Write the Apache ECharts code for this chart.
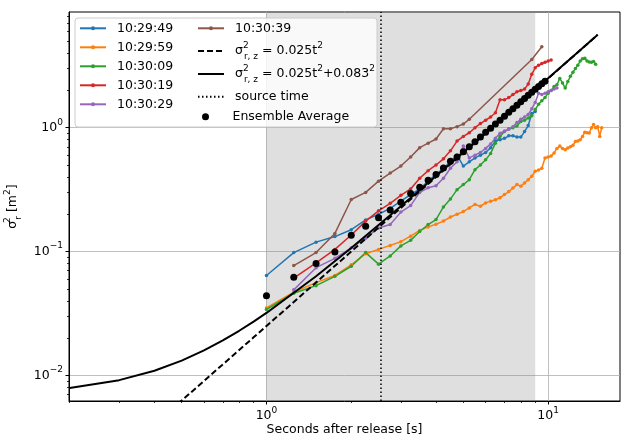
<!DOCTYPE html>
<html><head><meta charset="utf-8">
<script src="https://cdn.jsdelivr.net/npm/echarts@6/dist/echarts.min.js"></script>
<style>html,body{margin:0;padding:0;background:#fff}#c{width:622px;height:437px}</style>
</head><body><div id="c"></div>
<script>
const FONT = 'DejaVu Sans';

// ---- data ----
const tBlue = [1,1.25,1.5,1.75,2,2.25,2.5,2.75,3,3.25,3.5,3.75,4,4.25,4.5,4.75,5,5.25,5.5,5.75,6,6.25,6.5,6.75,7,7.25,7.5,7.75,8,8.25,8.5,8.75,9];
const vBlue = [0.064,0.098,0.119,0.132,0.150,0.180,0.200,0.223,0.255,0.288,0.320,0.370,0.420,0.470,0.530,0.600,0.490,0.530,0.570,0.600,0.630,0.690,0.780,0.800,0.820,0.860,0.860,0.840,0.840,0.930,1.040,1.300,1.350];

const tOrange = [1,1.25,1.5,1.75,2,2.25,2.5,2.75,3,3.25,3.5,3.75,4,4.25,4.5,4.75,5,5.25,5.5,5.75,6,6.25,6.5,6.75,7,7.25,7.5,7.75,8,8.25,8.5,8.75,9,9.25,9.5,9.75,10,10.25,10.5,10.75,11,11.25,11.5,11.75,12,12.25,12.5,12.75,13,13.25,13.5,13.75,14,14.25,14.5,14.75,15,15.25,15.5];
const vOrange = [0.035,0.047,0.056,0.064,0.078,0.096,0.104,0.112,0.120,0.133,0.148,0.158,0.166,0.176,0.190,0.200,0.210,0.225,0.240,0.232,0.247,0.255,0.262,0.272,0.288,0.305,0.325,0.347,0.337,0.358,0.380,0.405,0.445,0.455,0.470,0.570,0.580,0.590,0.625,0.680,0.710,0.680,0.665,0.686,0.700,0.720,0.775,0.780,0.800,0.850,0.917,0.910,0.906,1.000,1.060,1.000,1.020,0.850,1.000];

const tGreen = [1,1.25,1.5,1.75,2,2.25,2.5,2.75,3,3.25,3.5,3.75,4,4.25,4.5,4.75,5,5.25,5.5,5.75,6,6.25,6.5,6.75,7,7.25,7.5,7.75,8,8.25,8.5,8.75,9,9.25,9.5,9.75,10,10.25,10.5,10.75,11,11.25,11.5,11.75,12,12.25,12.5,12.75,13,13.25,13.5,13.75,14,14.25,14.5,14.75];
const vGreen = [0.034,0.046,0.053,0.063,0.076,0.098,0.079,0.092,0.111,0.123,0.145,0.165,0.181,0.229,0.265,0.316,0.347,0.380,0.458,0.500,0.550,0.620,0.750,0.850,0.930,0.980,1.000,1.030,1.120,1.150,1.200,1.250,1.400,1.550,1.650,1.750,1.900,2.000,2.150,2.220,2.500,2.300,2.090,2.360,2.600,2.800,3.000,3.200,3.450,3.600,3.640,3.450,3.400,3.380,3.430,3.260];

const tRed = [1.25,1.5,1.75,2,2.25,2.5,2.75,3,3.25,3.5,3.75,4,4.25,4.5,4.75,5,5.25,5.5,5.75,6,6.25,6.5,6.75,7,7.25,7.5,7.75,8,8.25,8.5,8.75,9,9.25,9.5,9.75,10,10.25];
const vRed = [0.061,0.081,0.104,0.136,0.176,0.213,0.245,0.284,0.320,0.390,0.450,0.500,0.560,0.650,0.780,0.850,0.910,1.000,1.080,1.150,1.220,1.320,1.680,1.680,1.750,1.850,1.950,2.000,2.050,2.250,2.700,3.050,3.200,3.300,3.380,3.450,3.520];

const tPurple = [1.25,1.5,1.75,2,2.25,2.5,2.75,3,3.25,3.5,3.75,4,4.25,4.5,4.75,5,5.25,5.5,5.75,6,6.25,6.5,6.75,7,7.25,7.5,7.75,8,8.25,8.5,8.75,9,9.25,9.5,9.75,10,10.25,10.5,10.75];
const vPurple = [0.049,0.074,0.088,0.107,0.128,0.155,0.165,0.208,0.235,0.300,0.327,0.340,0.390,0.470,0.530,0.710,0.570,0.600,0.630,0.680,0.740,0.820,0.900,0.940,0.970,1.020,1.100,1.170,1.220,1.280,1.420,1.600,1.900,1.850,1.900,1.950,2.000,2.050,2.090];

const tBrown = [1.25,1.5,1.75,2,2.25,2.5,2.75,3,3.25,3.5,3.75,4,4.25,4.5,4.75,5,5.25,8.75,9.5];
const vBrown = [0.077,0.098,0.140,0.263,0.300,0.370,0.430,0.490,0.580,0.690,0.750,0.810,0.980,0.980,1.020,1.070,1.170,3.550,4.500];

const tEnsemble = [1,1.25,1.5,1.75,2,2.25,2.5,2.75,3,3.25,3.5,3.75,4,4.25,4.5,4.75,5,5.25,5.5,5.75,6,6.25,6.5,6.75,7,7.25,7.5,7.75,8,8.25,8.5,8.75,9,9.25,9.5,9.75];
const vEnsemble = [0.044,0.062,0.080,0.099,0.135,0.160,0.187,0.216,0.250,0.294,0.330,0.376,0.418,0.473,0.535,0.580,0.640,0.700,0.770,0.840,0.920,0.990,1.070,1.150,1.240,1.330,1.420,1.520,1.620,1.720,1.830,1.930,2.040,2.150,2.260,2.370];

// model curves (values of the formulas shown in the legend)
const tModel = [0.2,0.3,0.4,0.5,0.6,0.7,0.8,0.9,1,1.5,2,3,4,5,6,8,10,12,15];
const vModelDashed = [0.001,0.00225,0.004,0.00625,0.009,0.01225,0.016,0.02025,0.025,0.05625,0.1,0.225,0.4,0.625,0.9,1.6,2.5,3.6,5.625];
const vModelSolid = [0.007889,0.009139,0.010889,0.013139,0.015889,0.019139,0.022889,0.027139,0.031889,0.063139,0.106889,0.231889,0.406889,0.631889,0.906889,1.606889,2.506889,3.606889,5.631889];

const sourceTime = 2.55;
const shadeRange = [1, 9];

const xMajor = [1, 10];
const xMinor = [0.2,0.3,0.4,0.5,0.6,0.7,0.8,0.9,2,3,4,5,6,7,8,9];
const yMajor = [0.01, 0.1, 1];
const yMinor = [0.007,0.008,0.009,0.02,0.03,0.04,0.05,0.06,0.07,0.08,0.09,0.2,0.3,0.4,0.5,0.6,0.7,0.8,0.9,2,3,4,5,6,7,8];

const NAMES = ['10:29:49','10:29:59','10:30:09','10:30:19','10:30:29','10:30:39'];
const COLORS = ['#1f77b4','#ff7f0e','#2ca02c','#d62728','#9467bd','#8c564b'];
const N_DASH = 'σ2r,z = 0.025t2';
const N_SOLID = 'σ2r,z = 0.025t2+0.0832';
const N_SRC = 'source time';
const N_ENS = 'Ensemble Average';

function zip(t, v) { return t.map((x, i) => [x, v[i]]); }
const X_MIN = 0.199, X_MAX = 18, Y_MIN = 0.0062, Y_MAX = 8.6;

function tickFmt(v) {
  const e = Math.round(Math.log10(v));
  return '{b|10}{s|' + (e < 0 ? '\u2212' + (-e) : e) + '}';
}
const tickRich = {
  b: {fontSize: 12.5, fontFamily: FONT, color: '#000', lineHeight: 20},
  s: {fontSize: 9, fontFamily: FONT, color: '#000', lineHeight: 10, verticalAlign: 'top'}
};
const legRich = {
  b: {fontSize: 12.5, fontFamily: FONT, color: '#000', lineHeight: 20},
  s: {fontSize: 9, fontFamily: FONT, color: '#000', lineHeight: 10, verticalAlign: 'top'},
  z: {fontSize: 9, fontFamily: FONT, color: '#000', lineHeight: 10, verticalAlign: 'top', width: 1},
  u: {fontSize: 9, fontFamily: FONT, color: '#000', lineHeight: 10, verticalAlign: 'bottom'}
};
const legFmt = {};
legFmt[N_DASH] = '{b|σ}{z|2}{u|r, z}{b| = 0.025t}{s|2}';
legFmt[N_SOLID] = '{b|σ}{z|2}{u|r, z}{b| = 0.025t}{s|2}{b|+0.083}{s|2}';

const seriesData = [zip(tBlue, vBlue), zip(tOrange, vOrange), zip(tGreen, vGreen), zip(tRed, vRed), zip(tPurple, vPurple), zip(tBrown, vBrown)];

const series = [];
series.push({
  name: 'shade', type: 'line', data: [], z: 1, silent: true,
  markArea: {silent: true, itemStyle: {color: 'rgba(128,128,128,0.25)'},
    data: [[{xAxis: shadeRange[0]}, {xAxis: shadeRange[1]}]]}
});
NAMES.forEach((n, i) => {
  series.push({
    name: n, type: 'line', data: seriesData[i], color: COLORS[i],
    symbol: 'circle', symbolSize: 3.5, showSymbol: true,
    lineStyle: {width: 1.5, color: COLORS[i]}, itemStyle: {color: COLORS[i]},
    z: 2, clip: true
  });
});
series.push({
  name: N_DASH, type: 'line', data: zip(tModel, vModelDashed), symbol: 'none', color: '#000',
  lineStyle: {width: 2, color: '#000', type: [6, 3]}, z: 3, clip: true
});
series.push({
  name: N_SOLID, type: 'line', data: zip(tModel, vModelSolid), symbol: 'none', color: '#000',
  lineStyle: {width: 2, color: '#000'}, z: 3, clip: true
});
series.push({
  name: N_SRC, type: 'line', data: [], symbol: 'none', color: '#000',
  lineStyle: {width: 1.5, color: '#000', type: [1.5, 2.5]}, z: 3,
  markLine: {silent: true, symbol: 'none', label: {show: false},
    lineStyle: {width: 1.5, color: '#000', type: [1.5, 2.5]},
    data: [{xAxis: sourceTime}]}
});
series.push({
  name: N_ENS, type: 'scatter', data: zip(tEnsemble, vEnsemble), symbol: 'circle', symbolSize: 7,
  color: '#000', itemStyle: {color: '#000', opacity: 1}, z: 4
});

const baseLegend = {
  orient: 'vertical', padding: 0, itemWidth: 26, itemHeight: 5, itemGap: 5,
  selectedMode: false, z: 60,
  textStyle: {fontSize: 12.5, fontFamily: FONT, color: '#000', lineHeight: 14, padding: [0, 0, 0, 6], rich: legRich},
  formatter: n => legFmt[n] || n
};
const hideSym = {opacity: 0};
const legends = [
  Object.assign({}, baseLegend, {data: NAMES.slice(0, 5), left: 79, top: 21.3}),
  Object.assign({}, baseLegend, {data: [NAMES[5]], left: 197, top: 21.3}),
  Object.assign({}, baseLegend, {data: [{name: N_DASH, itemStyle: hideSym}], left: 197, top: 41}),
  Object.assign({}, baseLegend, {data: [{name: N_SOLID, itemStyle: hideSym}], left: 197, top: 64}),
  Object.assign({}, baseLegend, {data: [{name: N_SRC, itemStyle: hideSym}], left: 197, top: 89.7}),
  Object.assign({}, baseLegend, {data: [{name: N_ENS, icon: 'circle'}], left: 202, top: 109.7, itemHeight: 7,
    symbolKeepAspect: true,
    textStyle: Object.assign({}, baseLegend.textStyle, {padding: [0, 0, 0, 9]})})
];

const axisCommon = {
  type: 'log', logBase: 10,
  axisLine: {show: true, lineStyle: {color: '#000', width: 1}},
  splitLine: {show: true, lineStyle: {color: '#b0b0b0', width: 0.8}},
};

const option = {
  animation: false,
  backgroundColor: '#fff',
  grid: {left: 69, right: 2, top: 12, bottom: 36, show: true, borderColor: '#000', borderWidth: 1,
    backgroundColor: 'transparent', outerBoundsMode: 'none', containLabel: false},
  graphic: [{type: 'rect', z: 50, shape: {x: 75, y: 18, width: 302, height: 109, r: 3},
    style: {fill: 'rgba(255,255,255,0.8)', stroke: '#cccccc', lineWidth: 1}}],
  legend: legends,
  xAxis: [
    Object.assign({}, axisCommon, {
      min: X_MIN, max: X_MAX, position: 'bottom',
      axisTick: {show: true, customValues: xMajor, length: 3.5, lineStyle: {color: '#000', width: 1}},
      axisLabel: {customValues: xMajor, formatter: tickFmt, rich: tickRich, margin: 5},
      name: 'Seconds after release [s]', nameLocation: 'middle', nameGap: 22, nameMoveOverlap: false,
      nameTextStyle: {fontSize: 12.5, fontFamily: FONT, color: '#000'}
    }),
    {type: 'log', min: X_MIN, max: X_MAX, position: 'bottom', axisLine: {show: false},
      axisTick: {show: true, customValues: xMinor, length: 2, lineStyle: {color: '#000', width: 0.8}},
      axisLabel: {show: false}, splitLine: {show: false}}
  ],
  yAxis: [
    Object.assign({}, axisCommon, {
      min: Y_MIN, max: Y_MAX, position: 'left',
      axisTick: {show: true, customValues: yMajor, length: 3.5, lineStyle: {color: '#000', width: 1}},
      axisLabel: {customValues: yMajor, formatter: tickFmt, rich: tickRich, margin: 6},
      name: '{b|σ}{z|2}{u|r}{b| [m}{s|2}{b|]}', nameLocation: 'middle', nameGap: 46, nameRotate: 90,
      nameMoveOverlap: false,
      nameTextStyle: {fontSize: 12.5, fontFamily: FONT, color: '#000', rich: legRich}
    }),
    {type: 'log', min: Y_MIN, max: Y_MAX, position: 'left', axisLine: {show: false},
      axisTick: {show: true, customValues: yMinor, length: 2, lineStyle: {color: '#000', width: 0.8}},
      axisLabel: {show: false}, splitLine: {show: false}}
  ],
  series: series
};
const chart = echarts.init(document.getElementById('c'));
chart.setOption(option);
</script>
</body></html>
